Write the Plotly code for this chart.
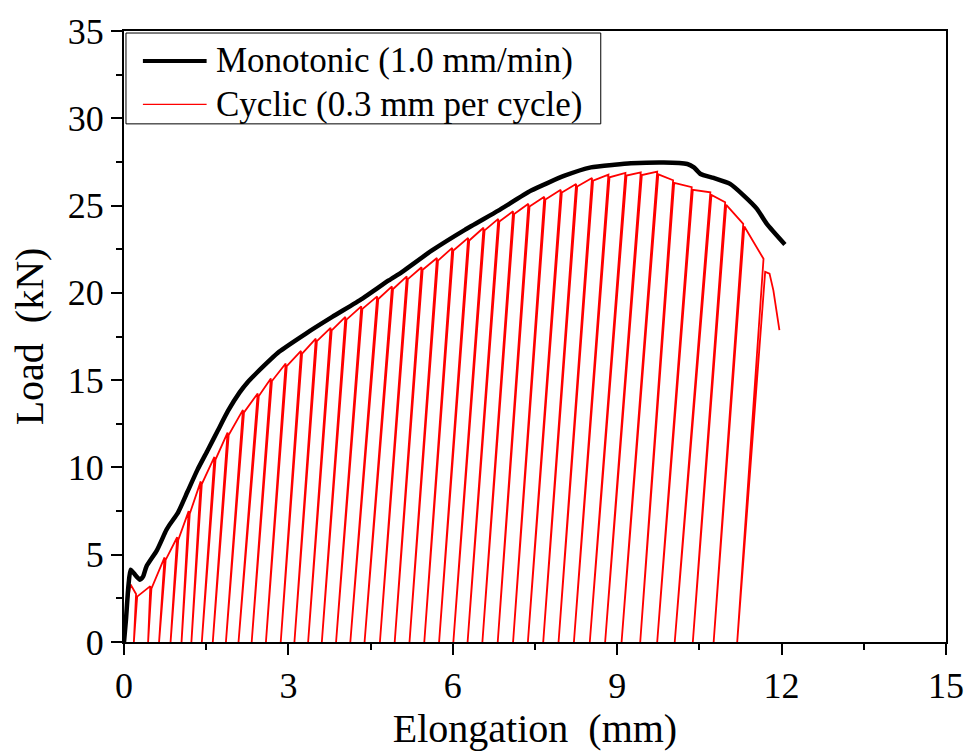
import plotly.graph_objects as go

# ---------------- data ----------------
# Monotonic curve (1.0 mm/min)
mono_x = [0, 0.036, 0.08, 0.12, 0.2, 0.29, 0.35, 0.41, 0.6, 0.77, 0.83, 0.98, 1.16, 1.34,
          1.53, 1.71, 1.90, 2.11, 2.26, 2.41, 2.83, 3.32, 3.80, 4.35, 4.83, 5.07, 5.62,
          6.22, 6.83, 7.43, 8.04, 8.52, 8.95, 9.25, 9.85, 10.28, 10.40, 10.52, 10.76,
          11.06, 11.31, 11.55, 11.73, 12.06]
mono_load = [0, 1.29, 3.19, 4.14, 3.86, 3.57, 3.76, 4.33, 5.25, 6.4, 6.71, 7.38, 8.62, 9.86,
             11.0, 12.1, 13.25, 14.3, 14.9, 15.38, 16.62, 17.67, 18.62, 19.67, 20.71,
             21.19, 22.43, 23.61, 24.71, 25.86, 26.71, 27.19, 27.34, 27.42, 27.47, 27.38,
             27.19, 26.81, 26.58, 26.24, 25.57, 24.81, 23.95, 22.77]

# Cyclic test (0.3 mm per cycle): initial rise, peak of each cycle, residual after unloading
cyc_start_x = [0, 0.06, 0.12]
cyc_start_load = [0, 2.2, 3.29]
cyc_peak_x = [0.22, 0.48, 0.74, 0.97, 1.18, 1.40, 1.65, 1.89, 2.17, 2.44, 2.68, 2.95, 3.23,
              3.50, 3.77, 4.04, 4.33, 4.62, 4.89, 5.16, 5.43, 5.71, 5.99, 6.28, 6.56, 6.83,
              7.10, 7.38, 7.67, 7.97, 8.25, 8.54, 8.84, 9.15, 9.43, 9.73, 10.02, 10.36,
              10.70, 10.97, 11.30, 11.67]
cyc_peak_load = [2.75, 3.2, 4.85, 6.0, 7.5, 9.2, 10.6, 12.0, 13.3, 14.24, 15.1, 15.95, 16.67,
                 17.38, 18.0, 18.62, 19.23, 19.8, 20.37, 20.94, 21.47, 22.0, 22.58, 23.15,
                 23.73, 24.24, 24.67, 25.1, 25.5, 25.9, 26.24, 26.58, 26.77, 26.87, 26.9,
                 26.94, 26.45, 26.05, 25.76, 25.19, 23.95, 21.95]
cyc_residual_x = [0.18, 0.44, 0.64, 0.85, 1.05, 1.23, 1.42, 1.62, 1.86, 2.09, 2.33, 2.59,
                  2.86, 3.11, 3.36, 3.61, 3.87, 4.13, 4.39, 4.67, 4.94, 5.21, 5.48, 5.75,
                  6.01, 6.27, 6.54, 6.82, 7.10, 7.37, 7.65, 7.93, 8.21, 8.50, 8.78, 9.08,
                  9.42, 9.73, 10.05, 10.38, 10.76, 11.19]
cyc_tail_x = [11.70, 11.78, 11.85, 11.91, 11.96]
cyc_tail_load = [21.2, 21.1, 20.14, 19.0, 17.86]

x_ticks = [0, 3, 6, 9, 12, 15]
y_ticks = [0, 5, 10, 15, 20, 25, 30, 35]

# ---------------- build cyclic path ----------------
cx = list(cyc_start_x)
cy = list(cyc_start_load)
n = len(cyc_peak_x)
for i in range(n):
    cx.append(cyc_peak_x[i]); cy.append(cyc_peak_load[i])
    cx.append(cyc_residual_x[i]); cy.append(0)
    if i < n - 1:
        # reloading path rejoins the envelope just after the previous peak
        cx.append(cyc_peak_x[i] + 0.02); cy.append(cyc_peak_load[i] - 0.15)
cx += cyc_tail_x
cy += cyc_tail_load

FONT = "Liberation Serif"

fig = go.Figure()
fig.add_trace(go.Scatter(x=cx, y=cy, mode="lines", name="Cyclic (0.3 mm per cycle)",
                         line=dict(color="#ff0000", width=1.8), showlegend=False))
fig.add_trace(go.Scatter(x=mono_x, y=mono_load, mode="lines", name="Monotonic (1.0 mm/min)",
                         line=dict(color="black", width=4.5, shape="spline", smoothing=0.5),
                         showlegend=False))

# legend (drawn as box + sample lines + labels)
shapes = [
    dict(type="rect", xref="paper", yref="paper", x0=0.0024, x1=0.58, y0=0.848, y1=0.9967,
         line=dict(color="black", width=1), fillcolor="white", layer="above"),
    dict(type="line", xref="paper", yref="paper", x0=0.023, x1=0.1005, y0=0.951, y1=0.951,
         line=dict(color="black", width=4), layer="above"),
    dict(type="line", xref="paper", yref="paper", x0=0.023, x1=0.1005, y0=0.880, y1=0.880,
         line=dict(color="#ff0000", width=1.2), layer="above"),
]
annotations = [
    dict(xref="paper", yref="paper", x=0.109, y=0.951, xanchor="left", yanchor="middle",
         text="Monotonic (1.0 mm/min)", showarrow=False,
         font=dict(family=FONT, size=35, color="black")),
    dict(xref="paper", yref="paper", x=0.109, y=0.880, xanchor="left", yanchor="middle",
         text="Cyclic (0.3 mm per cycle)", showarrow=False,
         font=dict(family=FONT, size=35, color="black")),
]

fig.update_layout(
    width=976, height=751,
    margin=dict(l=124, r=26, t=30, b=109),
    paper_bgcolor="white", plot_bgcolor="white",
    font=dict(family=FONT, size=36, color="black"),
    shapes=shapes, annotations=annotations,
    showlegend=False,
)
fig.update_xaxes(
    range=[0, 15], tickvals=x_ticks, ticktext=[str(v) for v in x_ticks],
    ticks="outside", ticklen=11, tickwidth=2, tickcolor="black",
    minor=dict(dtick=1.5, ticks="outside", ticklen=6, tickwidth=2, tickcolor="black"),
    showline=True, linewidth=2, linecolor="black", mirror=True,
    showgrid=False, zeroline=False,
    tickfont=dict(family=FONT, size=36),
    title=dict(text="Elongation\u00a0\u00a0(mm)", font=dict(family=FONT, size=40), standoff=2),
)
fig.update_yaxes(
    range=[0, 35], tickvals=y_ticks, ticktext=[str(v) for v in y_ticks],
    ticks="outside", ticklen=11, tickwidth=2, tickcolor="black",
    minor=dict(dtick=2.5, ticks="outside", ticklen=6, tickwidth=2, tickcolor="black"),
    showline=True, linewidth=2, linecolor="black", mirror=True,
    showgrid=False, zeroline=False,
    tickfont=dict(family=FONT, size=36),
    title=dict(text="Load\u00a0\u00a0(kN)", font=dict(family=FONT, size=40), standoff=12),
)

fig.write_html("out.html", post_script="document.body.style.margin='0px';",
               config={"displayModeBar": False})
